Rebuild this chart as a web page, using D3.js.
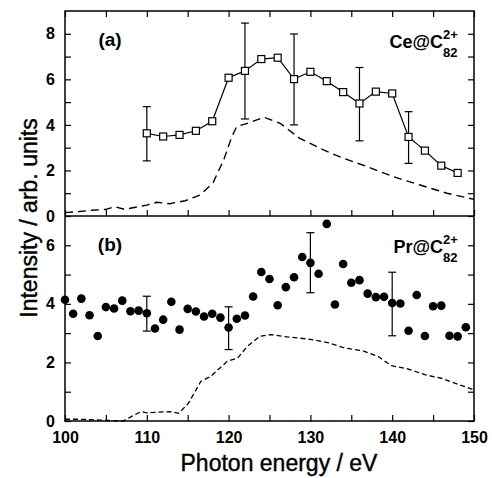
<!DOCTYPE html>
<html>
<head>
<meta charset="utf-8">
<script src="https://cdn.jsdelivr.net/npm/d3@7"></script>
<style>
  body { margin: 0; background: #fff; }
  svg text { font-family: "Liberation Sans", Arial, sans-serif; }
</style>
</head>
<body>
<div id="chart"></div>
<script>
// ---- data ----
// panel (a): Ce@C82 2+ (open squares)
var ceEnergy = [110, 112, 114, 116, 118, 120, 122, 124, 126, 128, 130, 132, 134, 136, 138, 140, 142, 144, 146, 148]
var ceValues = [3.63, 3.49, 3.56, 3.74, 4.16, 6.07, 6.37, 6.89, 6.95, 6.01, 6.33, 5.92, 5.44, 4.94, 5.46, 5.38, 3.47, 2.87, 2.21, 1.89]
var ceErrEnergy = [110, 122, 128, 136, 142]
var ceErrLow = [2.42, 4.26, 4.0, 3.30, 2.31]
var ceErrHigh = [4.80, 8.47, 7.99, 6.52, 4.58]
// dashed reference curve (a)
var ceRefEnergy = [100, 101.8, 103.2, 105, 106.1, 107.3, 110, 111.2, 112.8, 114.7, 116.5, 118.1, 119.4, 120.4, 121.0, 122.6, 124.3, 126.3, 128.7, 131.6, 134.0, 136.9, 140.1, 143.4, 146.7, 150]
var ceRefValues = [0.15, 0.2, 0.25, 0.29, 0.41, 0.29, 0.48, 0.6, 0.54, 0.67, 0.92, 1.46, 2.46, 3.49, 3.93, 4.10, 4.34, 4.07, 3.41, 2.90, 2.54, 2.17, 1.73, 1.36, 1.0, 0.73]

// panel (b): Pr@C82 2+ (filled circles)
var prEnergy = [100, 101, 102, 103, 104, 105, 106, 107, 108, 109,
  110, 111, 112, 113, 114, 115, 116, 117, 118, 119,
  120, 121, 122, 123, 124, 125, 126, 127, 128, 129,
  130, 131, 132, 133, 134, 135, 136, 137, 138, 139,
  140, 141, 142, 143, 144, 145, 146, 147, 148, 149]
var prValues = [4.14, 3.66, 4.18, 3.61, 2.90, 3.89, 3.84, 4.11, 3.75, 3.77,
  3.68, 3.16, 3.46, 4.07, 3.12, 3.83, 3.74, 3.57, 3.66, 3.53,
  3.19, 3.49, 3.60, 4.25, 5.09, 4.85, 3.95, 4.57, 4.91, 5.60,
  5.40, 5.03, 6.73, 3.98, 5.36, 4.72, 4.81, 4.35, 4.23, 4.24,
  4.03, 4.01, 3.08, 4.30, 2.90, 3.92, 3.94, 2.91, 2.89, 3.20]
var prErrEnergy = [110, 120, 130, 140]
var prErrLow = [3.07, 2.44, 4.38, 2.91]
var prErrHigh = [4.26, 3.90, 6.43, 5.08]
// dashed reference curve (b)
var prRefEnergy = [100, 101.8, 104.3, 107.1, 108.1, 109.3, 110, 112.9, 113.9, 115.1, 116.6, 117.8, 119.8, 121.1, 122.3, 123.8, 125.2, 127.2, 129.7, 132.1, 134.2, 136.4, 138.3, 139.9, 141.9, 144, 146, 148, 150]
var prRefValues = [0.06, 0.06, 0.03, 0.0, 0.15, 0.32, 0.28, 0.32, 0.26, 0.61, 1.35, 1.52, 2.03, 2.15, 2.55, 2.89, 2.95, 2.87, 2.80, 2.68, 2.49, 2.40, 2.20, 1.89, 1.78, 1.58, 1.46, 1.26, 1.06]

var xMajor = [100, 110, 120, 130, 140, 150]
var xMinor = [105, 115, 125, 135, 145]
var yMajorA = [0, 2, 4, 6, 8]
var yMinorA = [1, 3, 5, 7]
var yMajorB = [0, 2, 4, 6]
var yMinorB = [1, 3, 5]

// ---- layout ----
var W = 492, H = 478
var pLeft = 65, pRight = 474, pTop = 11, pMid = 216, pBottom = 421

var svg = d3.select('#chart').append('svg')
  .attr('width', W).attr('height', H)

var x = d3.scaleLinear().domain([100, 150]).range([pLeft, pRight])
var yA = d3.scaleLinear().domain([0, 9]).range([pMid, pTop])
var yB = d3.scaleLinear().domain([0, 7]).range([pBottom, pMid])

function styleAxis(g) {
  g.select('.domain').remove()
  g.selectAll('line').attr('stroke', '#000').attr('stroke-width', 1.2)
  g.selectAll('text').attr('fill', '#000')
    .style('font-size', '16px').style('font-weight', 'bold')
}

// y axes for a panel
function yAxes(y, major, minor) {
  svg.append('g').attr('transform', 'translate(' + pLeft + ',0)')
    .call(d3.axisLeft(y).tickValues(major).tickSizeInner(-6).tickSizeOuter(0).tickPadding(10).tickFormat(d3.format('d')))
    .call(styleAxis)
  svg.append('g').attr('transform', 'translate(' + pLeft + ',0)')
    .call(d3.axisLeft(y).tickValues(minor).tickSizeInner(-6).tickSizeOuter(0).tickFormat(''))
    .call(styleAxis)
  svg.append('g').attr('transform', 'translate(' + pRight + ',0)')
    .call(d3.axisRight(y).tickValues(major.concat(minor)).tickSizeInner(-6).tickSizeOuter(0).tickFormat(''))
    .call(styleAxis)
}
yAxes(yA, yMajorA, yMinorA)
yAxes(yB, yMajorB, yMinorB)

// x ticks: top of (a), bottom of (a), bottom of (b)
var allX = xMajor.concat(xMinor)
svg.append('g').attr('transform', 'translate(0,' + pTop + ')')
  .call(d3.axisTop(x).tickValues(allX).tickSizeInner(-6).tickSizeOuter(0).tickFormat(''))
  .call(styleAxis)
svg.append('g').attr('transform', 'translate(0,' + pMid + ')')
  .call(d3.axisBottom(x).tickValues(allX).tickSizeInner(-6).tickSizeOuter(0).tickFormat(''))
  .call(styleAxis)
svg.append('g').attr('transform', 'translate(0,' + pBottom + ')')
  .call(d3.axisBottom(x).tickValues(xMinor).tickSizeInner(-6).tickSizeOuter(0).tickFormat(''))
  .call(styleAxis)
svg.append('g').attr('transform', 'translate(0,' + pBottom + ')')
  .call(d3.axisBottom(x).tickValues(xMajor).tickSizeInner(-6).tickSizeOuter(0).tickPadding(11).tickFormat(d3.format('d')))
  .call(styleAxis)

// frames
svg.append('rect').attr('x', pLeft).attr('y', pTop)
  .attr('width', pRight - pLeft).attr('height', pBottom - pTop)
  .attr('fill', 'none').attr('stroke', '#000').attr('stroke-width', 1.5)
svg.append('line').attr('x1', pLeft).attr('x2', pRight).attr('y1', pMid).attr('y2', pMid)
  .attr('stroke', '#000').attr('stroke-width', 1.5)

// ---- panel (a) ----
var refA = d3.line().x(function (d, i) { return x(ceRefEnergy[i]) }).y(function (d) { return yA(d) })
svg.append('path').datum(ceRefValues).attr('d', refA)
  .attr('fill', 'none').attr('stroke', '#000').attr('stroke-width', 1.4)
  .attr('stroke-dasharray', '8,5')

var lineA = d3.line().x(function (d, i) { return x(ceEnergy[i]) }).y(function (d) { return yA(d) })
svg.append('path').datum(ceValues).attr('d', lineA)
  .attr('fill', 'none').attr('stroke', '#000').attr('stroke-width', 1.2)

svg.append('g').selectAll('g').data(ceErrEnergy).enter().append('g')
  .each(function (e, i) {
    var g = d3.select(this)
    g.append('line').attr('x1', x(e)).attr('x2', x(e))
      .attr('y1', yA(ceErrLow[i])).attr('y2', yA(ceErrHigh[i]))
    g.append('line').attr('x1', x(e) - 4).attr('x2', x(e) + 4)
      .attr('y1', yA(ceErrLow[i])).attr('y2', yA(ceErrLow[i]))
    g.append('line').attr('x1', x(e) - 4).attr('x2', x(e) + 4)
      .attr('y1', yA(ceErrHigh[i])).attr('y2', yA(ceErrHigh[i]))
  })
  .selectAll('line').attr('stroke', '#000').attr('stroke-width', 1.2)

svg.append('g').selectAll('rect').data(ceValues).enter().append('rect')
  .attr('x', function (d, i) { return x(ceEnergy[i]) - 3.5 })
  .attr('y', function (d) { return yA(d) - 3.5 })
  .attr('width', 7).attr('height', 7)
  .attr('fill', '#fff').attr('stroke', '#000').attr('stroke-width', 1.2)

// ---- panel (b) ----
var refB = d3.line().x(function (d, i) { return x(prRefEnergy[i]) }).y(function (d) { return yB(d) })
svg.append('path').datum(prRefValues).attr('d', refB)
  .attr('fill', 'none').attr('stroke', '#000').attr('stroke-width', 1.3)
  .attr('stroke-dasharray', '5,3')

svg.append('g').selectAll('g').data(prErrEnergy).enter().append('g')
  .each(function (e, i) {
    var g = d3.select(this)
    g.append('line').attr('x1', x(e)).attr('x2', x(e))
      .attr('y1', yB(prErrLow[i])).attr('y2', yB(prErrHigh[i]))
    g.append('line').attr('x1', x(e) - 4).attr('x2', x(e) + 4)
      .attr('y1', yB(prErrLow[i])).attr('y2', yB(prErrLow[i]))
    g.append('line').attr('x1', x(e) - 4).attr('x2', x(e) + 4)
      .attr('y1', yB(prErrHigh[i])).attr('y2', yB(prErrHigh[i]))
  })
  .selectAll('line').attr('stroke', '#000').attr('stroke-width', 1.2)

svg.append('g').selectAll('circle').data(prValues).enter().append('circle')
  .attr('cx', function (d, i) { return x(prEnergy[i]) })
  .attr('cy', function (d) { return yB(d) })
  .attr('r', 4.3).attr('fill', '#000')

// ---- labels ----
function panelLabels(tag, name, base) {
  svg.append('text').attr('x', 110).attr('y', base - 2)
    .attr('text-anchor', 'middle')
    .style('font-size', '19px').style('font-weight', 'bold').text(tag)
  svg.append('text').attr('x', 443).attr('y', base)
    .attr('text-anchor', 'end')
    .style('font-size', '18px').style('font-weight', 'bold').text(name)
  svg.append('text').attr('x', 443).attr('y', base - 9)
    .style('font-size', '13px').style('font-weight', 'bold').text('2+')
  svg.append('text').attr('x', 443).attr('y', base + 9)
    .style('font-size', '13px').style('font-weight', 'bold').text('82')
}
panelLabels('(a)', 'Ce@C', 48)
panelLabels('(b)', 'Pr@C', 253)

// axis titles (slight stroke to mimic the heavier original type)
svg.append('text').attr('x', 279).attr('y', 471)
  .attr('text-anchor', 'middle')
  .attr('stroke', '#000').attr('stroke-width', 0.4)
  .style('font-size', '23px').text('Photon energy / eV')

svg.append('text')
  .attr('transform', 'translate(37,218) rotate(-90)')
  .attr('text-anchor', 'middle')
  .attr('stroke', '#000').attr('stroke-width', 0.4)
  .style('font-size', '23px').text('Intensity / arb. units')
</script>
</body>
</html>
